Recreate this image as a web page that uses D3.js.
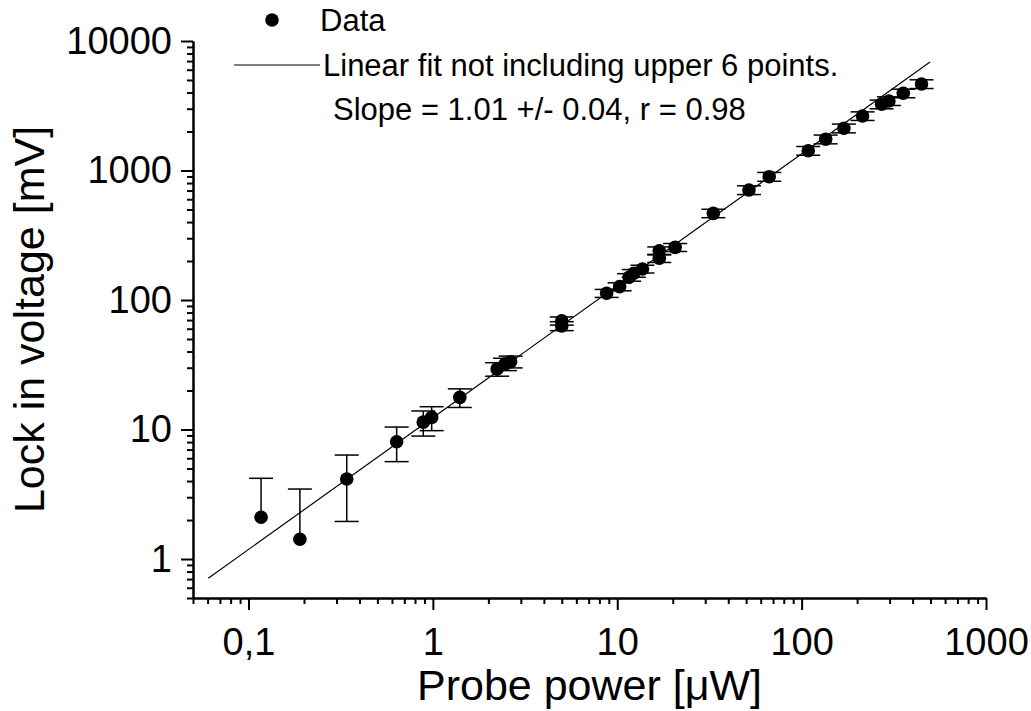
<!DOCTYPE html>
<html>
<head>
<meta charset="utf-8">
<script src="https://cdn.jsdelivr.net/npm/d3@7"></script>
<style>
  body { margin: 0; background: #fff; }
  svg { display: block; font-family: "Liberation Sans", Arial, sans-serif; }
</style>
</head>
<body>
<svg id="chart" width="1031" height="711"></svg>
<script>
// probe power [uW], lock-in voltage [mV], error [mV]
var powerData = [0.117, 0.19, 0.341, 0.636, 0.887, 0.985, 1.40, 2.23, 2.46, 2.64, 5.0, 5.0, 8.76, 10.3, 11.6, 12.3, 13.7, 16.9, 16.9, 20.6, 33.2, 51.8, 66.7, 108.6, 135, 169.5, 214, 271.5, 297.5, 356, 447]
var voltageData = [2.1, 1.42, 4.15, 8.05, 11.4, 12.4, 17.7, 29.3, 32.0, 33.4, 69, 63, 112.7, 126.8, 149.7, 160.8, 173.6, 210, 240, 255, 467, 707, 896, 1422, 1742, 2118, 2636, 3245, 3442, 3945, 4656]
var errorData = [2.1, 2.05, 2.2, 2.4, 2.5, 2.6, 2.9, 3.5, 3.5, 3.5, 5, 5, 8, 9, 10, 11, 12, 15, 17, 18, 35, 55, 70, 110, 135, 165, 200, 250, 265, 300, 360]

// linear fit (log-log) end points
var fitX = [0.0605, 497]
var fitY = [0.71, 6886]

var xMajor = [0.1, 1, 10, 100, 1000]
var xMajorLabels = ["0,1", "1", "10", "100", "1000"]
var yMajor = [1, 10, 100, 1000, 10000]
var yMajorLabels = ["1", "10", "100", "1000", "10000"]

var legendLabels = ["Data", "Linear fit not including upper 6 points.", "Slope = 1.01 +/- 0.04, r = 0.98"]

var dimensions = {
    width: 1031,
    height: 711,
    margin: { top: 41, bottom: 113, left: 193, right: 45 }
}

var svg = d3.select("#chart")

var xScale = d3.scaleLog()
    .domain([0.05, 1000])
    .range([dimensions.margin.left, dimensions.width - dimensions.margin.right])

var yScale = d3.scaleLog()
    .domain([0.5, 10000])
    .range([dimensions.height - dimensions.margin.bottom, dimensions.margin.top])

function minorTicks(scale) {
    return scale.ticks().filter(function (t) {
        return xMajor.indexOf(t) < 0 && yMajor.indexOf(t) < 0
    })
}

var xAxisY = dimensions.height - dimensions.margin.bottom
var yAxisX = dimensions.margin.left

// x axis
svg.append("g")
    .attr("class", "x minor")
    .attr("transform", "translate(0," + xAxisY + ")")
    .call(d3.axisBottom(xScale).tickValues(minorTicks(xScale)).tickSize(6).tickFormat("").tickSizeOuter(0))

svg.append("g")
    .attr("class", "x major")
    .attr("transform", "translate(0," + xAxisY + ")")
    .call(d3.axisBottom(xScale).tickValues(xMajor).tickSize(12).tickSizeOuter(0)
        .tickFormat(function (d, i) { return xMajorLabels[i] }))

// y axis
svg.append("g")
    .attr("class", "y minor")
    .attr("transform", "translate(" + yAxisX + ",0)")
    .call(d3.axisLeft(yScale).tickValues(minorTicks(yScale)).tickSize(6).tickFormat("").tickSizeOuter(0))

svg.append("g")
    .attr("class", "y major")
    .attr("transform", "translate(" + yAxisX + ",0)")
    .call(d3.axisLeft(yScale).tickValues(yMajor).tickSize(12).tickSizeOuter(0)
        .tickFormat(function (d, i) { return yMajorLabels[i] }))

svg.selectAll(".domain").attr("stroke", "#000").attr("stroke-width", 2)
svg.selectAll(".tick line").attr("stroke", "#000").attr("stroke-width", 2)
svg.selectAll(".major .tick text")
    .attr("fill", "#000")
    .style("font-size", "38px")
    .style("font-family", "Liberation Sans, Arial, sans-serif")
svg.selectAll(".x.major .tick text").attr("y", 30).attr("dy", "0.71em")
svg.selectAll(".y.major .tick text").attr("x", -21)

// axis titles
svg.append("text")
    .attr("x", (xScale.range()[0] + xScale.range()[1]) / 2)
    .attr("y", 700)
    .attr("text-anchor", "middle")
    .style("font-size", "43px")
    .text("Probe power [\u03BCW]")

svg.append("text")
    .attr("transform", "translate(44," + ((yScale.range()[0] + yScale.range()[1]) / 2) + ") rotate(-90)")
    .attr("text-anchor", "middle")
    .style("font-size", "43px")
    .text("Lock in voltage [mV]")

// fit line
svg.append("line")
    .attr("x1", xScale(fitX[0]))
    .attr("y1", yScale(fitY[0]))
    .attr("x2", xScale(fitX[1]))
    .attr("y2", yScale(fitY[1]))
    .attr("stroke", "#000")
    .attr("stroke-width", 1.2)

var points = powerData.map(function (p, i) {
    return { x: p, y: voltageData[i], err: errorData[i] }
})

// error bars
var capW = 12
var bars = svg.append("g").selectAll(".err")
    .data(points)
    .enter()
    .append("g")
    .attr("class", "err")
    .attr("stroke", "#000")
    .attr("stroke-width", 1.5)

bars.append("line")
    .attr("x1", d => xScale(d.x))
    .attr("x2", d => xScale(d.x))
    .attr("y1", d => d.y - d.err > 0 ? yScale(d.y - d.err) : yScale(d.y))
    .attr("y2", d => yScale(d.y + d.err))

bars.append("line")
    .attr("x1", d => xScale(d.x) - capW)
    .attr("x2", d => xScale(d.x) + capW)
    .attr("y1", d => yScale(d.y + d.err))
    .attr("y2", d => yScale(d.y + d.err))

bars.filter(d => d.y - d.err > 0).append("line")
    .attr("x1", d => xScale(d.x) - capW)
    .attr("x2", d => xScale(d.x) + capW)
    .attr("y1", d => yScale(d.y - d.err))
    .attr("y2", d => yScale(d.y - d.err))

// dots
svg.append("g").selectAll(".dot")
    .data(points)
    .enter()
    .append("circle")
    .attr("class", "dot")
    .attr("cx", d => xScale(d.x))
    .attr("cy", d => yScale(d.y))
    .attr("r", 6.8)
    .attr("fill", "#000")

// legend
var legend = svg.append("g").attr("class", "legend")
legend.append("circle").attr("cx", 272).attr("cy", 20).attr("r", 6.8).attr("fill", "#000")
legend.append("text").attr("x", 320).attr("y", 31).style("font-size", "31px").text(legendLabels[0])
legend.append("line").attr("x1", 234).attr("x2", 320).attr("y1", 65).attr("y2", 65)
    .attr("stroke", "#000").attr("stroke-width", 1.2)
legend.append("text").attr("x", 323).attr("y", 76).style("font-size", "31px").text(legendLabels[1])
legend.append("text").attr("x", 333).attr("y", 120).style("font-size", "31px").text(legendLabels[2])
</script>
</body>
</html>
